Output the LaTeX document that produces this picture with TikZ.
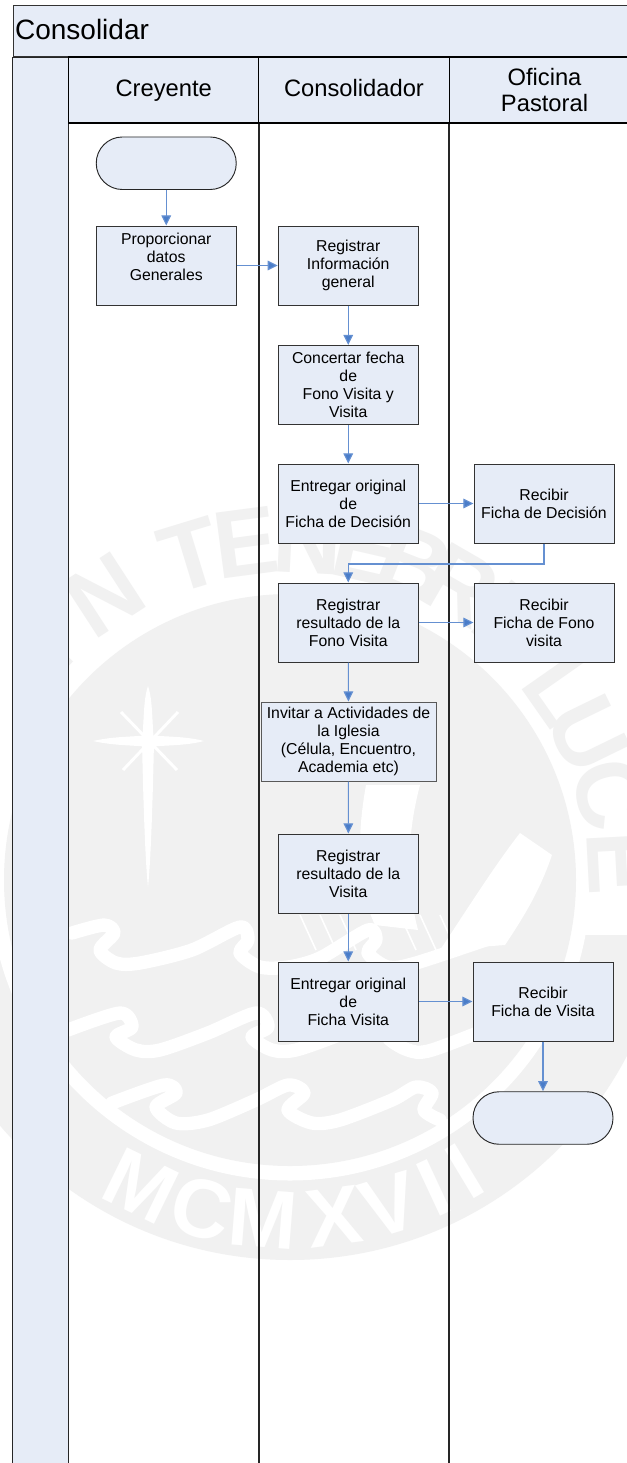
\documentclass[tikz,border=0pt]{standalone}
\usepackage{fontspec}
\setmainfont{Liberation Sans}
\usetikzlibrary{arrows.meta}
\definecolor{lanefill}{HTML}{E6ECF7}
\definecolor{flowblue}{HTML}{4A7DC9}
\definecolor{sealgray}{HTML}{F1F1F1}
\tikzset{
	laneline/.style={line width=1pt, color=black!85},
	titlebar/.style={draw=black!80, line width=0.9pt, fill=lanefill, anchor=north west, minimum width=465pt, minimum height=38.25pt, inner sep=0pt, text width=462pt, text depth=2.2pt, align=left, font=\fontsize{21}{24}\selectfont},
	lanehead/.style={draw=black, line width=0.9pt, fill=lanefill, minimum width=142.9pt, minimum height=49.5pt, inner sep=0pt, align=center, font=\fontsize{17.8}{19.5}\selectfont},
	laneword/.style={lanehead, text height=13pt, text depth=3.6pt},
	procbox/.style={draw=black!80, line width=0.75pt, fill=lanefill, minimum width=105pt, minimum height=59.25pt, inner sep=0pt, align=center, font=\fontsize{11.85}{13.5}\selectfont},
	endbox/.style={draw=black!85, line width=0.7pt, fill=lanefill, minimum width=105pt, minimum height=39.4pt, rounded corners=19.6pt},
	flowline/.style={draw=flowblue!85, line width=0.85pt, -{Triangle[length=7.6pt, width=7.2pt, fill=flowblue]}},
	sealwave/.style={white, line width=10pt, line cap=round, line join=round},
	sealmark/.style={fill=white, draw=none},
	sealletter/.style={inner sep=0pt, font=\fontsize{72}{72}\selectfont\bfseries},
}

\begin{document}
\begin{tikzpicture}[x=0.75pt, y=-0.75pt]
	\useasboundingbox (0, 0) rectangle (627, 1463);
	\clip (0, 0) rectangle (627, 1463);
	\fill[white] (0, 0) rectangle (627, 1463);

	%%%%% SEAL %%%%%
	\begin{scope}
		\clip (0, 935) rectangle (627, 1463);
		\fill[sealgray] (290, 880) circle (380);
	\end{scope}
	\draw[white, line width=12.75pt] (290, 880) circle (292);
	\fill[sealgray] (290, 880) circle (286);

	\foreach \ch/\ang in {I/136, N/123, T/107, E/97.5, N/87, E/77, B/68.5, R/60, I/52.5}
		\node[sealletter, text=sealgray, rotate=\ang-90] (seal\ch\ang) at ({290+340*cos(\ang)}, {880-340*sin(\ang)}) {\ch};
	\foreach \ch/\ang in {L/35, U/26, C/15, E/3}
		\node[sealletter, text=sealgray, rotate=\ang-90] (seal\ch\ang) at ({290+332*cos(\ang)}, {880-332*sin(\ang)}) {\ch};

	\foreach \ch/\ang in {M/244, C/255, M/265.5, X/277.5, V/287, I/295, I/301}
		\node[sealletter, text=white, rotate=\ang+90, font=\fontsize{62}{62}\selectfont\bfseries] (mark\ch\ang) at ({290+340*cos(\ang)}, {880-340*sin(\ang)}) {\ch};

	% star
	\fill[sealmark] (148, 686) .. controls (153, 700) and (152, 725) .. (154, 741) .. controls (153, 790) and (151, 860) .. (148, 887) .. controls (145, 860) and (143, 790) .. (142, 741) .. controls (144, 725) and (143, 700) .. (148, 686) -- cycle;
	\fill[sealmark] (93, 741) .. controls (115, 736) and (135, 737) .. (148, 735) .. controls (165, 737) and (185, 736) .. (204, 741) .. controls (185, 746) and (165, 745) .. (148, 747) .. controls (135, 745) and (115, 746) .. (93, 741) -- cycle;
	\draw[white, line width=2.2pt] (121, 712) -- (177, 770);
	\draw[white, line width=2.2pt] (178, 712) -- (123, 770);

	% book and sail
	\fill[sealmark] (366, 785) .. controls (356, 840) and (358, 890) .. (375, 925) -- (418, 930) .. controls (405, 880) and (408, 830) .. (420, 785) -- cycle;
	\fill[sealmark] (520, 833) -- (552, 855) .. controls (540, 890) and (525, 915) .. (505, 945) -- (440, 950) .. controls (470, 905) and (495, 865) .. (520, 833) -- cycle;
	\foreach \lx in {300, 320, 340, 400, 420, 440}
		\draw[white, line width=1.2pt] (\lx, 915) -- (\lx+16, 950);

	% waves
	\draw[sealwave] plot[smooth] coordinates {(72, 933) (104, 925) (114, 933) (100, 950) (116, 963) (140, 963) (192, 950) (240, 927) (248, 940) (240, 953) (260, 967) (288, 967) (320, 958) (368, 930) (376, 940) (368, 953) (388, 967) (416, 963) (500, 935)};
	\draw[sealwave] plot[smooth] coordinates {(68, 1030) (120, 1013) (132, 1027) (116, 1037) (136, 1050) (160, 1050) (208, 1033) (256, 1013) (268, 1027) (252, 1037) (272, 1050) (296, 1050) (344, 1033) (392, 1013) (404, 1027) (388, 1037) (408, 1050) (432, 1050) (510, 1020)};
	\draw[sealwave] plot[smooth] coordinates {(112, 1103) (164, 1085) (176, 1093) (156, 1107) (176, 1123) (208, 1120) (256, 1100) (288, 1085) (304, 1093) (288, 1110) (312, 1123) (340, 1120) (392, 1100) (416, 1087) (432, 1093) (424, 1110) (440, 1120)};

	%%%%% LANES %%%%%
	\fill[lanefill] (12.5, 57) rectangle (68.5, 1470);
	\draw[laneline] (12.5, 57) -- (12.5, 1470);
	\draw[laneline] (68.5, 57) -- (68.5, 1470);
	\draw[laneline] (259, 57) -- (259, 1470);
	\draw[laneline] (449, 57) -- (449, 1470);

	\node[titlebar] (title) at (12.5, 5) {Consolidar};
	\draw[laneline] (12.5, 57.3) -- (640, 57.3);

	\node[laneword] (headCreyente) at (163.75, 90) {Creyente};
	\node[laneword] (headConsolidador) at (354, 90) {Consolidador};
	\node[lanehead] (headOficina) at (544.5, 90) {Oficina\\Pastoral};

	%%%%% FLOW %%%%%
	\node[endbox] (startTerm) at (166.25, 163.25) {};
	\node[procbox] (datosGen) at (166.25, 265.5) {Proporcionar\\datos\\Generales\\~};
	\node[procbox] (regInfo) at (348.25, 265.5) {Registrar\\Información\\general};
	\node[procbox] (concertar) at (348.25, 385) {Concertar fecha\\de\\Fono Visita y\\Visita};
	\node[procbox] (entregaDec) at (348.25, 503.5) {Entregar original\\de\\Ficha de Decisión};
	\node[procbox] (recibeDec) at (544, 503.5) {Recibir\\Ficha de Decisión};
	\node[procbox] (regFono) at (348.25, 622.5) {Registrar\\resultado de la\\Fono Visita};
	\node[procbox] (recibeFono) at (544, 622.5) {Recibir\\Ficha de Fono\\visita};
	\node[procbox, minimum width=131.25pt, draw=black!65] (invitar) at (348.5, 741.5) {Invitar a Actividades de\\la Iglesia\\(Célula, Encuentro,\\Academia etc)};
	\node[procbox] (regVisita) at (348.25, 873.5) {Registrar\\resultado de la\\Visita};
	\node[procbox] (entregaVis) at (348.25, 1001.5) {Entregar original\\de\\Ficha Visita};
	\node[procbox] (recibeVis) at (543, 1001.5) {Recibir\\Ficha de Visita};
	\node[endbox] (endTerm) at (543, 1118) {};
	\coordinate (elbowDec) at (348.25, 564);

	\draw[flowline] (startTerm) -- (datosGen);
	\draw[flowline] (datosGen) -- (regInfo);
	\draw[flowline] (regInfo) -- (concertar);
	\draw[flowline] (concertar) -- (entregaDec);
	\draw[flowline] (entregaDec) -- (recibeDec);
	\draw[flowline] (recibeDec.south) |- (elbowDec) -- (regFono.north);
	\draw[flowline] (regFono) -- (recibeFono);
	\draw[flowline] (regFono) -- (invitar);
	\draw[flowline] (invitar) -- (regVisita);
	\draw[flowline] (regVisita) -- (entregaVis);
	\draw[flowline] (entregaVis) -- (recibeVis);
	\draw[flowline] (recibeVis) -- (endTerm);
\end{tikzpicture}
\end{document}
